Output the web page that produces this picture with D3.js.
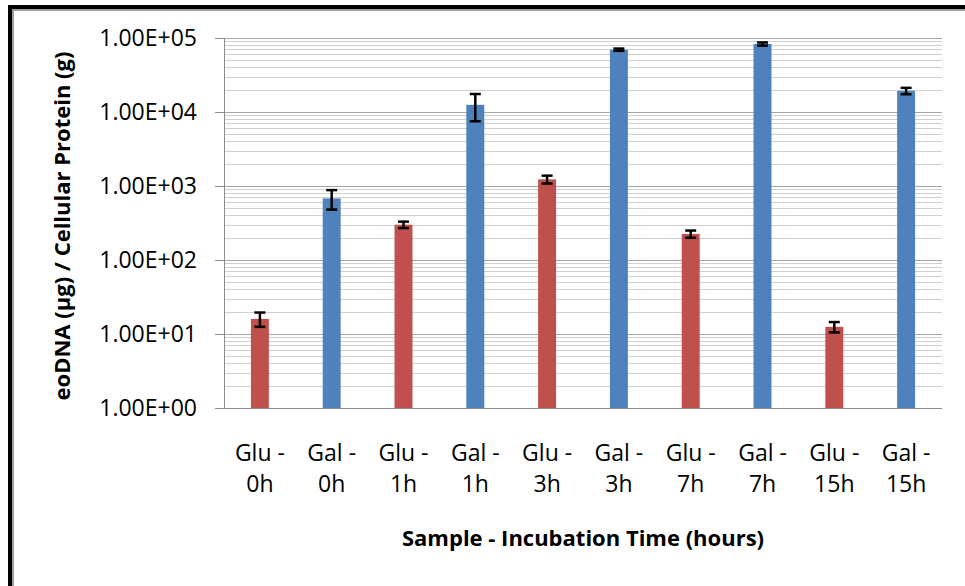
<!DOCTYPE html>
<html>
<head>
<meta charset="utf-8">
<script src="https://d3js.org/d3.v7.min.js"></script>
<style>
  body { margin: 0; background: #fff; }
  svg text { font-family: "Open Sans", sans-serif; fill: #000; }
</style>
</head>
<body>
<div id="chart"></div>
<script>
// values (log scale)
const samples = ["Glu - 0h", "Gal - 0h", "Glu - 1h", "Gal - 1h", "Glu - 3h",
                 "Gal - 3h", "Glu - 7h", "Gal - 7h", "Glu - 15h", "Gal - 15h"];
const eoDNA = [16, 680, 300, 12500, 1230, 69500, 225, 83000, 12.5, 19300];
const errors = [3.5, 200, 30, 5000, 150, 2500, 25, 4000, 2, 1900];
const yTicks = [1, 10, 100, 1000, 10000, 100000];
const sugarColors = {Glu: "#C0504D", Gal: "#4F81BD"};

const W = 965, H = 586;
const margin = {top: 38, right: 23, bottom: 178, left: 224};
const width = W - margin.left - margin.right;
const height = H - margin.top - margin.bottom;

const svg = d3.select("#chart").append("svg")
    .attr("width", W)
    .attr("height", H);

// outer frame (black top/left with grey inner line)
svg.append("rect").attr("x", 8).attr("y", 5).attr("width", W - 8).attr("height", 4).attr("fill", "#000");
svg.append("rect").attr("x", 8).attr("y", 5).attr("width", 4).attr("height", H - 5).attr("fill", "#000");
svg.append("rect").attr("x", 12).attr("y", 9).attr("width", W - 12).attr("height", 2).attr("fill", "#a0a0a0");
svg.append("rect").attr("x", 12).attr("y", 9).attr("width", 2).attr("height", H - 9).attr("fill", "#a0a0a0");

const g = svg.append("g")
    .attr("transform", "translate(" + margin.left + "," + margin.top + ")");

const x = d3.scaleBand().domain(samples).range([0, width]);
const y = d3.scaleLog().domain([1, 100000]).range([height, 0]);

// gridlines
const minorTicks = y.ticks().filter(d => !yTicks.includes(d));
g.append("g").selectAll("line")
    .data(minorTicks)
    .join("line")
    .attr("x1", 0).attr("x2", width)
    .attr("y1", d => Math.round(y(d)) + 0.5)
    .attr("y2", d => Math.round(y(d)) + 0.5)
    .attr("stroke", "#d0d0d0");
g.append("g").selectAll("line")
    .data(yTicks.slice(1))
    .join("line")
    .attr("x1", 0).attr("x2", width)
    .attr("y1", d => Math.round(y(d)) + 0.5)
    .attr("y2", d => Math.round(y(d)) + 0.5)
    .attr("stroke", "#a6a6a6");

// y axis
const yAxis = g.append("g")
    .call(d3.axisLeft(y)
        .tickValues(yTicks)
        .tickSize(9)
        .tickPadding(18)
        .tickFormat(d => "1.00E+" + String(Math.round(Math.log10(d))).padStart(2, "0")));
yAxis.select(".domain").remove();
yAxis.selectAll("line").attr("stroke", "#8c8c8c");
yAxis.selectAll("text").attr("font-size", 23).style("font-family", "Open Sans");
g.append("line")
    .attr("x1", 0.5).attr("x2", 0.5)
    .attr("y1", 0).attr("y2", height)
    .attr("stroke", "#8c8c8c");

// bars
const bw = x.bandwidth() * 0.25;
g.append("g").selectAll("rect")
    .data(samples)
    .join("rect")
    .attr("x", d => x(d) + (x.bandwidth() - bw) / 2)
    .attr("width", bw)
    .attr("y", (d, i) => y(eoDNA[i]))
    .attr("height", (d, i) => height - y(eoDNA[i]))
    .attr("fill", d => sugarColors[d.split(" - ")[0]]);

// error bars
const capW = 11;
const err = g.append("g").attr("stroke", "#000").attr("stroke-width", 2.5);
samples.forEach((d, i) => {
    const cx = x(d) + x.bandwidth() / 2;
    const hi = y(eoDNA[i] + errors[i]), lo = y(eoDNA[i] - errors[i]);
    err.append("line").attr("x1", cx).attr("x2", cx).attr("y1", hi).attr("y2", lo);
    err.append("line").attr("x1", cx - capW / 2).attr("x2", cx + capW / 2).attr("y1", hi).attr("y2", hi);
    err.append("line").attr("x1", cx - capW / 2).attr("x2", cx + capW / 2).attr("y1", lo).attr("y2", lo);
});

// x axis
g.append("line")
    .attr("x1", -9).attr("x2", width)
    .attr("y1", height + 0.5).attr("y2", height + 0.5)
    .attr("stroke", "#8c8c8c");

const xAxis = g.append("g")
    .attr("transform", "translate(0," + height + ")")
    .call(d3.axisBottom(x).tickSize(0));
xAxis.select(".domain").remove();
xAxis.selectAll("text").each(function(d) {
    const parts = d.split(" - ");
    const t = d3.select(this).text(null)
        .attr("y", 0).attr("dy", null)
        .attr("font-size", 23).style("font-family", "Open Sans");
    t.append("tspan").attr("x", 0).attr("y", 53).text(parts[0] + " -");
    t.append("tspan").attr("x", 0).attr("y", 84).text(parts[1]);
});

// axis titles
g.append("text")
    .attr("x", width / 2)
    .attr("y", height + 138)
    .attr("text-anchor", "middle")
    .attr("font-size", 22)
    .attr("font-weight", "bold")
    .text("Sample - Incubation Time (hours)");

svg.append("text")
    .attr("transform", "translate(70," + (margin.top + height / 2 + 3) + ") rotate(-90)")
    .attr("text-anchor", "middle")
    .attr("font-size", 22)
    .attr("font-weight", "bold")
    .text("eoDNA (µg) / Cellular Protein (g)");
</script>
</body>
</html>
